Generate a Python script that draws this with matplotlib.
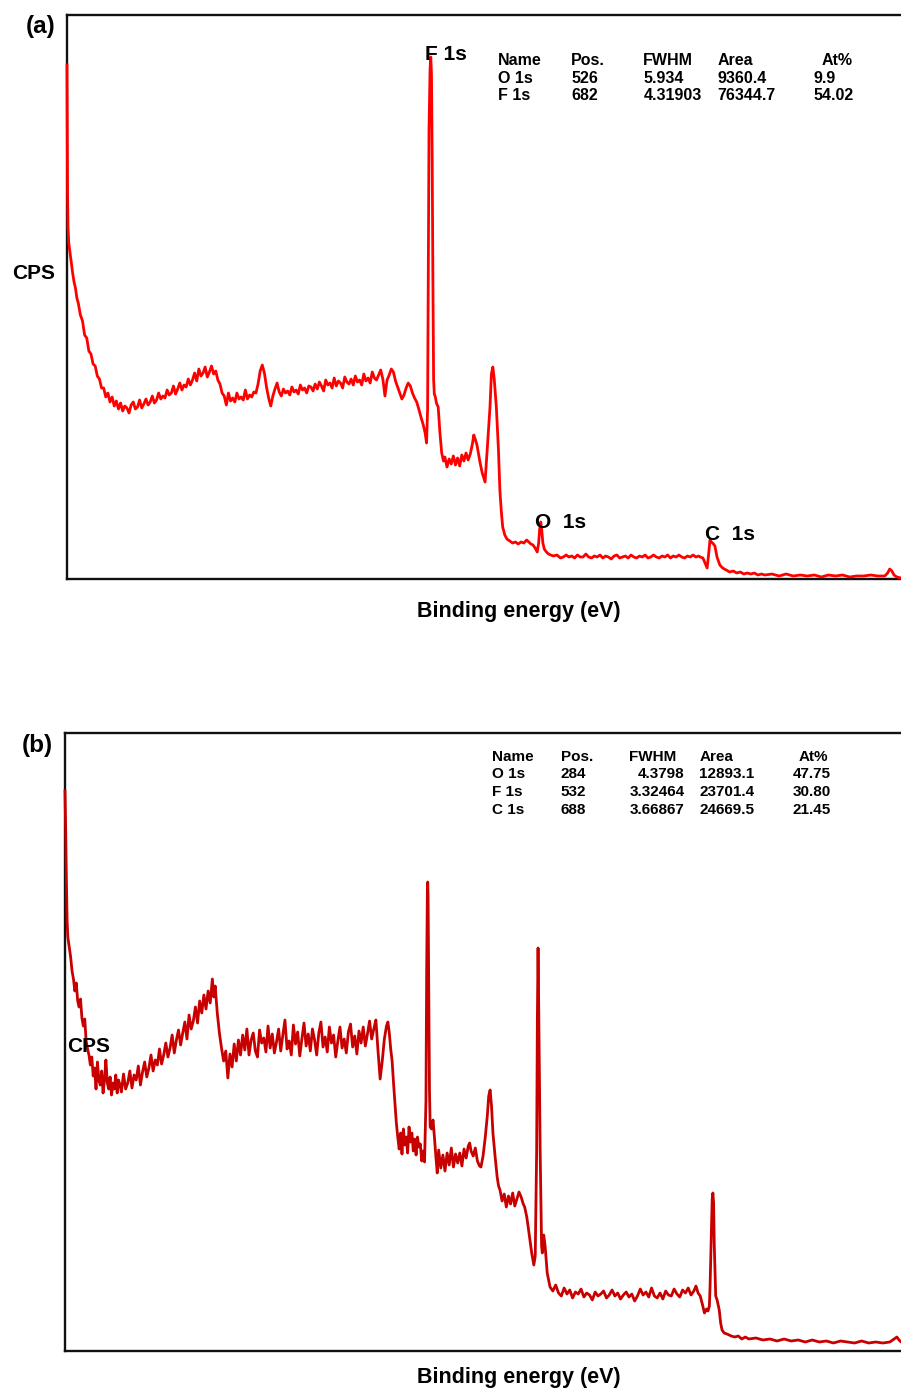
"""Two XPS survey spectra, panels (a) and (b)."""

from pathlib import Path

import matplotlib.pyplot as plt

ROOT = Path(__file__).resolve().parent
W, H = 901, 1388
FONT = ["Liberation Sans", "DejaVu Sans"]

# (binding energy in eV, counts in arbitrary units)
spectrum_a = [
    (1200, 514), (1199.6, 440), (1199.2, 385), (1198.6, 352), (1197.5, 336),
    (1196, 328), (1194, 317), (1192, 306), (1190, 297), (1188, 291), (1186, 281),
    (1184, 276), (1181, 264), (1178, 258), (1175, 244), (1172, 241), (1169, 228),
    (1166, 225), (1163, 215), (1160, 213), (1157, 203), (1154, 200), (1151, 191),
    (1148, 191), (1145, 182), (1142, 186), (1139, 177), (1136, 182), (1133, 173),
    (1130, 178), (1127, 170), (1124, 176), (1121, 168), (1118, 173), (1115, 171),
    (1112, 166), (1109, 174), (1106, 177), (1103, 170), (1100, 172), (1097, 179),
    (1094, 171), (1091, 175), (1088, 180), (1085, 174), (1082, 177), (1079, 183),
    (1076, 176), (1073, 179), (1070, 186), (1067, 180), (1064, 183), (1061, 181),
    (1058, 189), (1055, 184), (1052, 186), (1049, 193), (1046, 185), (1043, 190),
    (1040, 196), (1037, 189), (1034, 194), (1031, 192), (1028, 200), (1025, 194),
    (1022, 199), (1019, 206), (1016, 198), (1013, 210), (1010, 203), (1007, 206),
    (1004, 212), (1001, 202), (998, 207), (995, 213), (992, 205), (989, 208),
    (986, 199), (983, 195), (980, 186), (977, 183), (974, 174), (971, 186),
    (968, 178), (965, 181), (962, 177), (959, 186), (956, 180), (953, 182),
    (950, 179), (947, 189), (944, 180), (941, 184), (938, 182), (935, 187),
    (932, 186), (929, 195), (926, 208), (923, 214), (920, 206), (917, 192),
    (914, 181), (911, 173), (908, 183), (905, 190), (902, 196), (899, 187),
    (896, 183), (893, 190), (890, 186), (887, 188), (884, 184), (881, 192),
    (878, 187), (875, 189), (872, 185), (869, 194), (866, 189), (863, 191),
    (860, 186), (857, 193), (854, 192), (851, 188), (848, 195), (845, 190),
    (842, 197), (839, 193), (836, 188), (833, 199), (830, 194), (827, 196),
    (824, 191), (821, 201), (818, 193), (815, 198), (812, 196), (809, 191),
    (806, 202), (803, 197), (800, 195), (797, 200), (794, 194), (791, 203),
    (788, 197), (785, 199), (782, 194), (779, 205), (776, 198), (773, 201),
    (770, 196), (767, 207), (764, 201), (761, 199), (758, 204), (755, 209),
    (752, 200), (749, 183), (746, 199), (743, 204), (740, 210), (737, 207),
    (734, 198), (731, 192), (728, 186), (725, 180), (722, 184), (719, 191),
    (716, 196), (713, 193), (710, 186), (707, 181), (704, 177), (701, 170),
    (698, 162), (695, 155), (692, 146), (690, 136), (688.5, 170), (687.5, 300),
    (686.5, 450), (685, 510), (684, 522), (683, 505), (682, 420), (681, 300),
    (680, 200), (679, 185), (677.5, 182), (676, 176), (673.5, 172), (671, 146),
    (668.5, 126), (666, 118), (664, 122), (661, 112), (658, 120), (655, 115),
    (652, 123), (649, 114), (646, 121), (643, 113), (640, 124), (637, 118),
    (634, 126), (631, 119), (628, 125), (625, 135), (623, 144), (621, 140),
    (618.5, 134), (616, 124), (614, 116), (611, 106), (607, 97), (604, 129),
    (600, 172), (598, 205), (596, 212), (594, 200), (591, 172), (588, 129),
    (586, 89), (584, 68), (582, 52), (579, 44), (576, 40), (572, 38), (568, 36),
    (564, 37), (560, 35), (556, 37), (552, 36), (548, 39), (545, 37), (542, 35),
    (539, 34), (536, 31), (533, 27), (531, 36), (529.5, 50), (528, 57),
    (526.5, 48), (525, 36), (523, 30), (520, 27), (517, 25), (514, 24),
    (510, 23), (505, 24), (500, 21), (496, 22), (492, 24), (488, 22), (484, 23),
    (480, 21), (476, 24), (472, 22), (468, 22), (464, 25), (460, 22), (456, 21),
    (452, 23), (448, 22), (444, 24), (440, 21), (436, 23), (432, 22), (428, 20),
    (424, 23), (420, 24), (416, 21), (412, 22), (408, 23), (404, 21), (400, 24),
    (396, 22), (392, 21), (388, 23), (384, 22), (380, 24), (376, 21), (372, 22),
    (368, 24), (364, 22), (360, 21), (356, 23), (352, 22), (348, 24), (344, 21),
    (340, 23), (336, 22), (332, 24), (328, 22), (324, 21), (320, 23), (316, 22),
    (312, 24), (308, 22), (304, 23),
    (302, 22), (298, 21), (295, 16), (292, 11), (290, 24), (288, 39), (286, 37),
    (283, 35), (281, 33), (278, 22), (274, 14), (270, 11), (265, 9), (260, 7),
    (255, 8), (250, 6), (245, 7), (240, 5), (235, 6), (230, 5), (225, 6),
    (220, 4), (215, 5), (210, 4), (200, 5), (190, 3), (180, 5), (170, 3),
    (160, 4), (150, 3), (140, 4), (130, 2), (120, 4), (110, 3), (100, 4),
    (90, 2), (80, 3), (70, 3), (60, 4), (50, 3), (40, 3), (36, 6), (33, 10),
    (30, 8), (27, 4), (23, 2), (17, 1), (10, 1), (0, 1),
]

spectrum_b = [
    (1200, 560), (1199, 520), (1198, 470), (1197, 430), (1196, 414),
    (1194, 404), (1192, 394), (1190, 380), (1188, 372), (1186, 360),
    (1184, 368), (1182, 350), (1180, 344), (1178, 352), (1176, 333),
    (1174, 325), (1172, 332), (1170, 310), (1168, 302), (1166, 296),
    (1164, 286), (1162, 294), (1160, 275), (1158, 283), (1156, 262),
    (1154, 289), (1152, 271), (1150, 266), (1148, 280), (1146, 258),
    (1144, 271), (1142, 291), (1140, 268), (1138, 262), (1136, 274),
    (1134, 256), (1132, 268), (1130, 262), (1128, 276), (1126, 258),
    (1124, 271), (1122, 266), (1120, 259), (1117, 277), (1114, 262),
    (1111, 268), (1108, 280), (1105, 263), (1102, 276), (1099, 271),
    (1096, 285), (1093, 266), (1090, 279), (1087, 289), (1084, 274),
    (1081, 283), (1078, 296), (1075, 280), (1072, 291), (1069, 286),
    (1066, 302), (1063, 287), (1060, 296), (1057, 308), (1054, 294),
    (1051, 303), (1048, 316), (1045, 298), (1042, 311), (1039, 321),
    (1036, 306), (1033, 318), (1030, 329), (1027, 312), (1024, 336),
    (1021, 322), (1018, 330), (1015, 344), (1012, 328), (1009, 350),
    (1006, 338), (1003, 356), (1000, 342), (997, 360), (994, 348),
    (991, 372), (989, 354), (987, 365), (984, 338), (981, 318),
    (978, 303), (975, 290), (972, 300), (969, 273), (966, 297),
    (963, 284), (960, 307), (957, 290), (954, 311), (951, 296),
    (948, 316), (945, 301), (942, 322), (939, 296), (936, 311),
    (933, 318), (930, 300), (927, 294), (924, 321), (921, 308),
    (918, 313), (915, 299), (912, 325), (909, 303), (906, 317),
    (903, 298), (900, 309), (897, 322), (894, 300), (891, 316),
    (888, 331), (885, 302), (882, 310), (879, 296), (876, 326),
    (873, 307), (870, 319), (867, 295), (864, 312), (861, 328),
    (858, 305), (855, 317), (852, 300), (849, 322), (846, 311),
    (843, 296), (840, 318), (837, 329), (834, 304), (831, 314),
    (828, 299), (825, 324), (822, 308), (819, 316), (816, 294),
    (813, 310), (810, 324), (807, 303), (804, 312), (801, 298),
    (798, 319), (795, 327), (792, 304), (789, 315), (786, 297),
    (783, 320), (780, 308), (777, 324), (774, 305), (771, 317),
    (768, 330), (765, 312), (762, 322), (759, 331), (756, 300),
    (753, 272), (750, 290), (747, 312), (744, 325), (742, 329),
    (740, 318), (738, 302), (736, 290), (734, 268), (732, 248),
    (730, 228), (728, 214), (726, 202), (724, 218), (722, 197),
    (720, 222), (718, 206), (716, 214), (714, 198), (712, 224),
    (710, 209), (708, 218), (706, 200), (704, 212), (702, 196),
    (700, 214), (698, 204), (696, 207), (694, 190), (692, 200),
    (690, 189), (688, 250), (687, 380), (686, 460), (685.5, 469),
    (685, 455), (684, 360), (683, 260), (682, 224), (680, 222),
    (678, 231), (676, 214), (674, 195), (672, 178), (670, 201),
    (667, 183), (664, 196), (661, 180), (658, 198), (655, 186),
    (652, 203), (649, 184), (646, 197), (643, 188), (640, 198),
    (637, 185), (634, 202), (631, 193), (628, 205), (626, 208),
    (624, 200), (621, 195), (618, 203), (615, 190), (612, 185),
    (610, 184), (607, 195), (604, 213), (601, 235), (599, 255),
    (597, 261), (595, 245), (593, 218), (590, 195), (587, 174),
    (585, 165), (583, 161), (580, 150), (577, 157), (574, 144),
    (571, 155), (568, 147), (565, 158), (562, 145), (559, 152),
    (556, 159), (553, 154), (550, 147), (548, 144), (545, 134),
    (543, 124), (540, 108), (538, 98), (536, 90), (535, 86),
    (533, 95), (531, 200), (530, 330), (529, 403), (528, 340),
    (526, 200), (524, 105), (523, 98), (521, 116), (519, 105),
    (516, 78), (512, 64), (508, 60), (504, 66), (500, 58), (496, 55),
    (492, 63), (488, 57), (484, 61), (480, 53), (476, 59), (472, 57),
    (468, 62), (464, 54), (460, 58), (456, 56), (452, 51), (448, 59),
    (444, 55), (440, 57), (436, 60), (432, 53), (428, 56), (424, 61),
    (420, 55), (416, 58), (412, 52), (408, 56), (404, 59), (400, 54),
    (396, 57), (392, 50), (388, 55), (384, 62), (380, 56), (376, 59),
    (372, 54), (368, 63), (364, 55), (360, 53), (356, 58), (352, 52),
    (348, 60), (344, 56), (340, 55), (336, 62), (332, 57), (328, 54),
    (324, 61), (320, 58), (316, 63), (312, 56), (308, 60), (305, 65),
    (302, 58), (299, 55), (296, 47), (293, 38),
    (290, 42), (288, 40), (286, 45), (285, 65), (283, 125), (282, 152),
    (281, 158), (280, 148), (279, 105), (277, 55), (275, 51), (272, 41),
    (270, 28), (268, 21), (265, 18), (261, 17), (255, 15), (250, 14),
    (245, 15), (240, 12), (235, 14), (230, 12), (220, 13), (210, 11),
    (200, 12), (190, 10), (180, 12), (170, 10), (160, 11), (150, 9),
    (140, 11), (130, 9), (120, 10), (110, 8), (100, 10), (90, 9),
    (80, 8), (70, 10), (60, 8), (50, 9), (40, 8), (30, 9), (24, 12),
    (20, 14), (17, 11), (14, 9), (10, 8), (0, 8),
]

table_header = ["Name", "Pos.", "FWHM", "Area", "At%"]
table_a_rows = [
    ["O 1s", "526", "5.934", "9360.4", "9.9"],
    ["F 1s", "682", "4.31903", "76344.7", "54.02"],
]
table_b_rows = [
    ["O 1s", "284", "4.3798", "12893.1", "47.75"],
    ["F 1s", "532", "3.32464", "23701.4", "30.80"],
    ["C 1s", "688", "3.66867", "24669.5", "21.45"],
]
peak_labels_a = ["F 1s", "O  1s", "C  1s"]


def put(fig, x, y, s, size, ha="left"):
    # x, y in pixels from the top-left corner, y is the text baseline
    fig.text(x / W, 1 - y / H, s, fontsize=size, fontweight="bold",
             ha=ha, va="baseline", family=FONT, color="black")


def draw_panel(fig, left_px, top_px, bottom_px, spectrum, color):
    rect = [left_px / W, 1 - bottom_px / H,
            846 / W, (bottom_px - top_px) / H]
    ax = fig.add_axes(rect)
    energy = [p[0] for p in spectrum]
    counts = [p[1] for p in spectrum]
    ax.plot(energy, counts, color=color, lw=2.0, zorder=3, clip_on=False)
    ax.set_xlim(1200, 0)
    ax.set_ylim(0, bottom_px - top_px)
    ax.set_xticks([])
    ax.set_yticks([])
    for side in ("left", "top", "bottom"):
        ax.spines[side].set_linewidth(1.7)
        ax.spines[side].set_color("#111111")
    ax.spines["right"].set_visible(False)
    ax.patch.set_alpha(0)
    return ax


def main() -> int:
    fig = plt.figure(figsize=(W / 100, H / 100), dpi=100)
    fig.patch.set_facecolor("white")

    # panel (a)
    draw_panel(fig, 67, 15, 579, spectrum_a, "#ff0000")
    put(fig, 26, 33, "(a)", 17.5)
    put(fig, 12, 279, "CPS", 15)
    put(fig, 519, 617, "Binding energy (eV)", 15.5, ha="center")
    for s, (x, y) in zip(peak_labels_a, [(425, 60), (535, 528), (705, 540)]):
        put(fig, x, y, s, 15)

    cols_a = [497.7, 571, 643.3, 717.3]
    for j, s in enumerate(table_header[:4]):
        put(fig, cols_a[j], 65, s, 11.5)
    put(fig, 821.7, 65, table_header[4], 11.5)
    for i, row in enumerate(table_a_rows):
        y = 83 + i * 17.5
        for j in range(4):
            put(fig, cols_a[j], y, row[j], 11.5)
        put(fig, 813.3, y, row[4], 11.5)

    # panel (b)
    draw_panel(fig, 65, 733, 1351, spectrum_b, "#c80000")
    put(fig, 22, 752, "(b)", 17.5)
    put(fig, 67, 1052, "CPS", 15)
    put(fig, 519, 1383, "Binding energy (eV)", 15.5, ha="center")

    put(fig, 491.7, 761, table_header[0], 11)
    put(fig, 560.7, 761, table_header[1], 11)
    put(fig, 629.3, 761, table_header[2], 11)
    put(fig, 699.3, 761, table_header[3], 11)
    put(fig, 798.3, 761, table_header[4], 11)
    for i, row in enumerate(table_b_rows):
        y = 778 + i * 18
        put(fig, 491.7, y, row[0], 11)
        put(fig, 560.7, y, row[1], 11)
        put(fig, 684.5, y, row[2], 11, ha="right")
        put(fig, 699.3, y, row[3], 11)
        put(fig, 830.5, y, row[4], 11, ha="right")

    fig.savefig(ROOT / "out.png", dpi=100)
    plt.close(fig)
    return 0


if __name__ == "__main__":
    raise SystemExit(main())
